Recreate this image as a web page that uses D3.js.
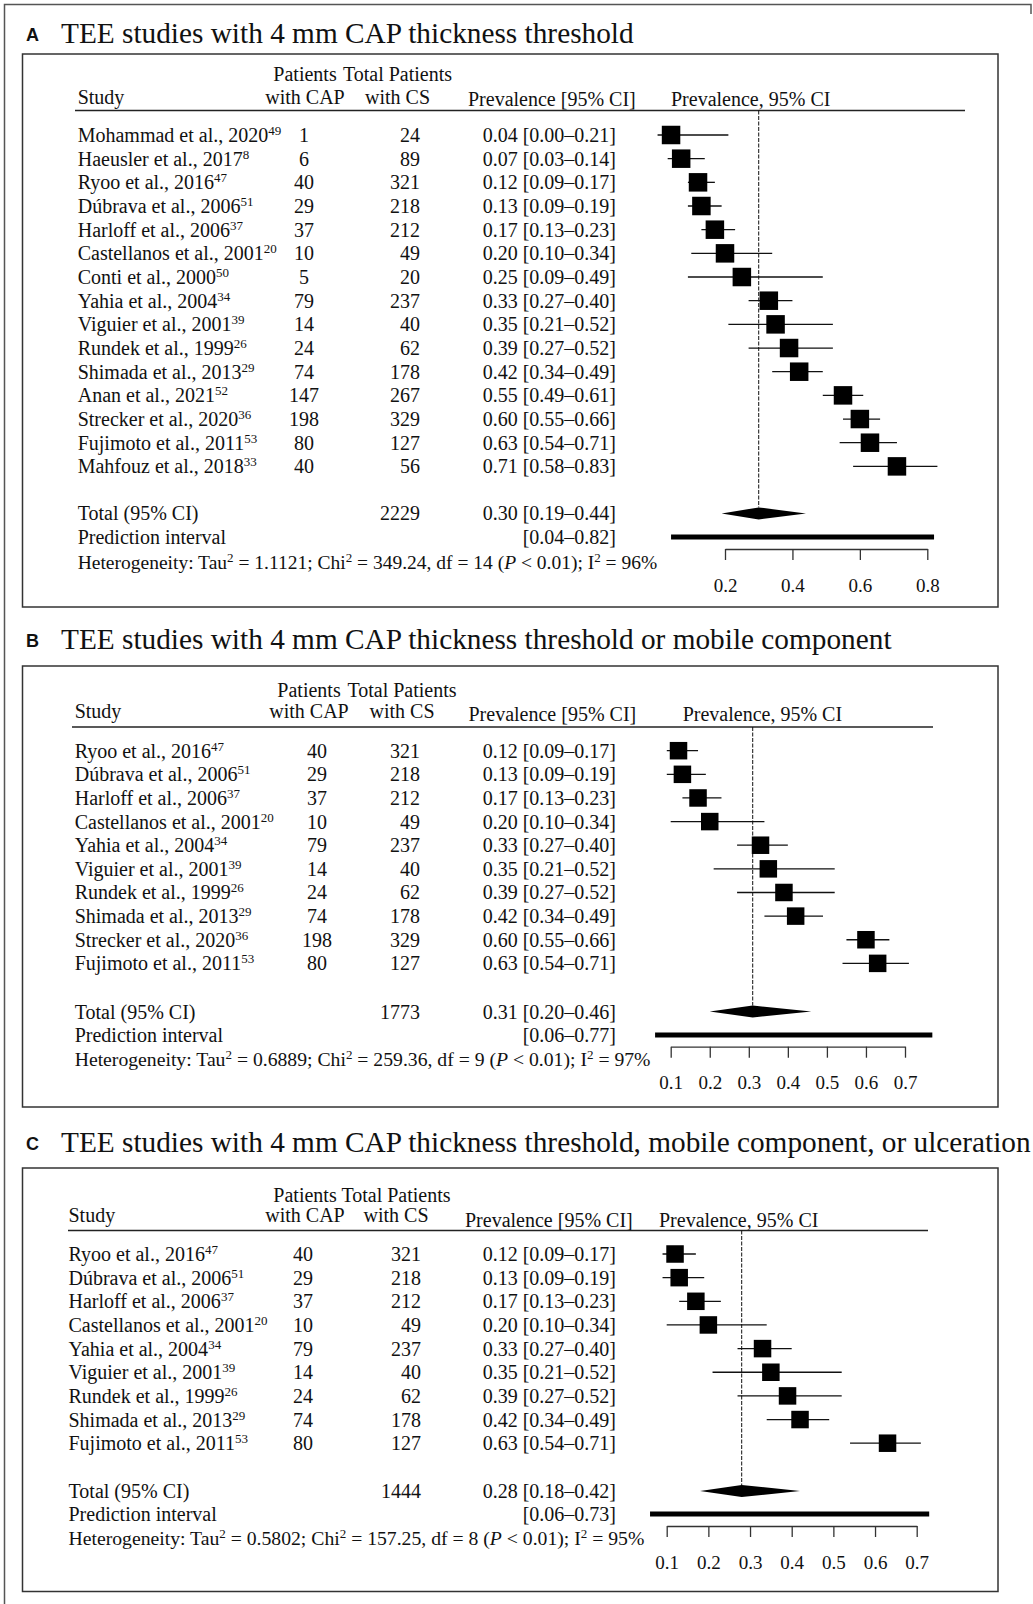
<!DOCTYPE html>
<html>
<head>
<meta charset="utf-8">
<script src="https://cdn.jsdelivr.net/npm/d3@7"></script>
<style>
  body { margin: 0; background: #fff; }
  svg text { font-family: "Liberation Serif", "Times New Roman", serif; fill: #111; }
</style>
</head>
<body>
<div id="chart"></div>
<script>
// ---- data: all studies ----
const studyNames = ["Mohammad et al., 2020", "Haeusler et al., 2017", "Ryoo et al., 2016", "Dúbrava et al., 2006",
  "Harloff et al., 2006", "Castellanos et al., 2001", "Conti et al., 2000", "Yahia et al., 2004",
  "Viguier et al., 2001", "Rundek et al., 1999", "Shimada et al., 2013", "Anan et al., 2021",
  "Strecker et al., 2020", "Fujimoto et al., 2011", "Mahfouz et al., 2018"];
const studyRefs = ["49", "8", "47", "51", "37", "20", "50", "34", "39", "26", "29", "52", "36", "53", "33"];
const withCAP = [1, 6, 40, 29, 37, 10, 5, 79, 14, 24, 74, 147, 198, 80, 40];
const withCS = [24, 89, 321, 218, 212, 49, 20, 237, 40, 62, 178, 267, 329, 127, 56];
const prevEst = [0.04, 0.07, 0.12, 0.13, 0.17, 0.20, 0.25, 0.33, 0.35, 0.39, 0.42, 0.55, 0.60, 0.63, 0.71];
const prevLo  = [0.00, 0.03, 0.09, 0.09, 0.13, 0.10, 0.09, 0.27, 0.21, 0.27, 0.34, 0.49, 0.55, 0.54, 0.58];
const prevHi  = [0.21, 0.14, 0.17, 0.19, 0.23, 0.34, 0.49, 0.40, 0.52, 0.52, 0.49, 0.61, 0.66, 0.71, 0.83];

// ---- data: panels ----
const panelLetters = ["A", "B", "C"];
const panelTitles = [
  "TEE studies with 4 mm CAP thickness threshold",
  "TEE studies with 4 mm CAP thickness threshold or mobile component",
  "TEE studies with 4 mm CAP thickness threshold, mobile component, or ulceration"
];
const panelStudies = [
  [0, 1, 2, 3, 4, 5, 6, 7, 8, 9, 10, 11, 12, 13, 14],
  [2, 3, 4, 5, 7, 8, 9, 10, 12, 13],
  [2, 3, 4, 5, 7, 8, 9, 10, 13]
];
const totalCS = [2229, 1773, 1444];
const pooledEst = [0.30, 0.31, 0.28];
const pooledLo = [0.19, 0.20, 0.18];
const pooledHi = [0.44, 0.46, 0.42];
const predLo = [0.04, 0.06, 0.06];
const predHi = [0.82, 0.77, 0.73];
const tau2 = ["1.1121", "0.6889", "0.5802"];
const chi2 = ["349.24", "259.36", "157.25"];
const dfs = ["14", "9", "8"];
const i2 = ["96%", "97%", "95%"];
const axisTicks = [
  [0.2, 0.4, 0.6, 0.8],
  [0.1, 0.2, 0.3, 0.4, 0.5, 0.6, 0.7],
  [0.1, 0.2, 0.3, 0.4, 0.5, 0.6, 0.7]
];

// ---- layout (pixels) ----
const layouts = [
  {titleY: 43, box: [22.5, 54, 998, 607], h1: 81, h2: 104, hp: 106, line: 110.5, lineX: [75, 965],
   row0: 135, rowH: 23.67, totY: 513.4, piY: 537, hetY: 561.5, axisY: 549, range: [725, 927.3],
   studyX: 77.7, capX: 304, capHX: 305, csX: 420, csHX: 397.5, prevX: 616, prevHX: 468, forHX: 671,
   sq: 18.5, hetFs: 19.5},
  {titleY: 649, box: [22.5, 666, 998, 1107], h1: 697, h2: 718, hp: 721, line: 727, lineX: [72, 933],
   row0: 750.7, rowH: 23.63, totY: 1011.5, piY: 1035, hetY: 1058.6, axisY: 1046.7, range: [670.7, 905],
   studyX: 74.7, capX: 317, capHX: 309, csX: 420, csHX: 402, prevX: 616, prevHX: 468.5, forHX: 682.7,
   sq: 17.5, hetFs: 19.7},
  {titleY: 1152, box: [22.5, 1168, 998, 1591.5], h1: 1202, h2: 1222, hp: 1227, line: 1230.5, lineX: [68, 928],
   row0: 1254, rowH: 23.65, totY: 1491, piY: 1514, hetY: 1538, axisY: 1526, range: [666.7, 916.7],
   studyX: 68.5, capX: 303, capHX: 305, csX: 421, csHX: 396, prevX: 616, prevHX: 465, forHX: 659,
   sq: 17.5, hetFs: 19.7}
];

const width = 1033, height = 1604;
const fs = 20;

const svg = d3.select("#chart").append("svg")
  .attr("width", width)
  .attr("height", height);

// outer frame
svg.append("path")
  .attr("d", "M4.5,1604 V4.5 H1031 V14")
  .attr("fill", "none")
  .attr("stroke", "#555")
  .attr("stroke-width", 1.5);

const fmt2 = d3.format(".2f");

// helper to write text with superscripts / italics
function rich(sel, parts) {
  let raised = false;
  parts.forEach(p => {
    const t = sel.append("tspan").text(p.t);
    if (p.sup && !raised) { t.attr("dy", -7).attr("font-size", 13); raised = true; }
    else if (p.sup) { t.attr("font-size", 13); }
    else if (raised) { t.attr("dy", 7); raised = false; }
    if (p.it) t.attr("font-style", "italic");
  });
}

panelLetters.forEach((letter, k) => {
  const L = layouts[k];
  const g = svg.append("g");
  const idx = panelStudies[k];
  const x = d3.scaleLinear()
    .domain([axisTicks[k][0], axisTicks[k][axisTicks[k].length - 1]])
    .range(L.range);
  const rowY = i => L.row0 + i * L.rowH;

  // panel letter + title
  g.append("text")
    .attr("x", 26).attr("y", L.titleY - 2.5)
    .style("font-family", "'Liberation Sans', Arial, sans-serif")
    .style("font-weight", "bold")
    .style("font-size", "18px")
    .text(letter);
  g.append("text")
    .attr("x", 61).attr("y", L.titleY)
    .style("font-size", "29.3px")
    .text(panelTitles[k]);

  // box
  g.append("rect")
    .attr("x", L.box[0]).attr("y", L.box[1])
    .attr("width", L.box[2] - L.box[0]).attr("height", L.box[3] - L.box[1])
    .attr("fill", "none").attr("stroke", "#333").attr("stroke-width", 1.5);

  // headers
  const hdr = (tx, xx, yy, anchor) => g.append("text")
    .attr("x", xx).attr("y", yy).attr("text-anchor", anchor)
    .style("font-size", fs + "px").text(tx);
  hdr("Study", L.studyX, L.h2, "start");
  hdr("Patients", L.capHX, L.h1, "middle");
  hdr("with CAP", L.capHX, L.h2, "middle");
  hdr("Total Patients", L.csHX, L.h1, "middle");
  hdr("with CS", L.csHX, L.h2, "middle");
  hdr("Prevalence [95% CI]", L.prevHX, L.hp, "start");
  hdr("Prevalence, 95% CI", L.forHX, L.hp, "start");

  g.append("line")
    .attr("x1", L.lineX[0]).attr("x2", L.lineX[1])
    .attr("y1", L.line).attr("y2", L.line)
    .attr("stroke", "#222").attr("stroke-width", 1.3);

  // pooled reference line (dashed)
  g.append("line")
    .attr("x1", x(pooledEst[k])).attr("x2", x(pooledEst[k]))
    .attr("y1", L.line).attr("y2", L.totY - 6)
    .attr("stroke", "#111").attr("stroke-width", 1)
    .attr("stroke-dasharray", "4,1.5");

  // study rows
  const rows = g.selectAll("g.row")
    .data(idx)
    .join("g")
    .attr("class", "row")
    .attr("transform", (d, i) => `translate(0,${rowY(i)})`);

  rows.append("text")
    .attr("x", L.studyX).attr("y", 7)
    .style("font-size", fs + "px")
    .each(function(d) {
      rich(d3.select(this), [{t: studyNames[d]}, {t: studyRefs[d], sup: true}]);
    });
  rows.append("text")
    .attr("x", L.capX).attr("y", 7).attr("text-anchor", "middle")
    .style("font-size", fs + "px")
    .text(d => withCAP[d]);
  rows.append("text")
    .attr("x", L.csX).attr("y", 7).attr("text-anchor", "end")
    .style("font-size", fs + "px")
    .text(d => withCS[d]);
  rows.append("text")
    .attr("x", L.prevX).attr("y", 7).attr("text-anchor", "end")
    .style("font-size", fs + "px")
    .text(d => `${fmt2(prevEst[d])} [${fmt2(prevLo[d])}–${fmt2(prevHi[d])}]`);

  rows.append("line")
    .attr("x1", d => x(prevLo[d])).attr("x2", d => x(prevHi[d]))
    .attr("y1", 0).attr("y2", 0)
    .attr("stroke", "#111").attr("stroke-width", 1.3);
  rows.append("rect")
    .attr("x", d => x(prevEst[d]) - L.sq / 2).attr("y", -L.sq / 2)
    .attr("width", L.sq).attr("height", L.sq)
    .attr("fill", "#000");

  // total
  const tot = (tx, xx, yy, anchor) => g.append("text")
    .attr("x", xx).attr("y", yy + 7).attr("text-anchor", anchor)
    .style("font-size", fs + "px").text(tx);
  tot("Total (95% CI)", L.studyX, L.totY, "start");
  tot(totalCS[k], L.csX, L.totY, "end");
  tot(`${fmt2(pooledEst[k])} [${fmt2(pooledLo[k])}–${fmt2(pooledHi[k])}]`, L.prevX, L.totY, "end");
  tot("Prediction interval", L.studyX, L.piY, "start");
  tot(`[${fmt2(predLo[k])}–${fmt2(predHi[k])}]`, L.prevX, L.piY, "end");

  const het = g.append("text")
    .attr("x", L.studyX).attr("y", L.hetY + 7)
    .style("font-size", L.hetFs + "px");
  rich(het, [
    {t: "Heterogeneity: Tau"}, {t: "2", sup: true},
    {t: ` = ${tau2[k]}; Chi`}, {t: "2", sup: true},
    {t: ` = ${chi2[k]}, df = ${dfs[k]} (`}, {t: "P", it: true},
    {t: " < 0.01); I"}, {t: "2", sup: true}, {t: ` = ${i2[k]}`}
  ]);

  // pooled diamond
  const dh = 6;
  g.append("path")
    .attr("d", `M${x(pooledLo[k])},${L.totY} L${x(pooledEst[k])},${L.totY - dh} L${x(pooledHi[k])},${L.totY} L${x(pooledEst[k])},${L.totY + dh} Z`)
    .attr("fill", "#000");

  // prediction interval bar
  g.append("line")
    .attr("x1", x(predLo[k])).attr("x2", x(predHi[k]))
    .attr("y1", L.piY).attr("y2", L.piY)
    .attr("stroke", "#000").attr("stroke-width", 5);

  // axis
  const ax = g.append("g")
    .attr("transform", `translate(0,${L.axisY})`)
    .call(d3.axisBottom(x).tickValues(axisTicks[k]).tickSize(11).tickSizeOuter(0).tickFormat(d3.format(".1f")));
  ax.select(".domain").attr("stroke", "#333").attr("stroke-width", 1.3);
  ax.selectAll(".tick line").attr("stroke", "#333").attr("stroke-width", 1.3);
  ax.selectAll(".tick text")
    .attr("y", 36).attr("dy", "0.35em")
    .style("font-family", "'Liberation Serif', 'Times New Roman', serif")
    .style("font-size", "19px")
    .attr("fill", "#111");
});
</script>
</body>
</html>
